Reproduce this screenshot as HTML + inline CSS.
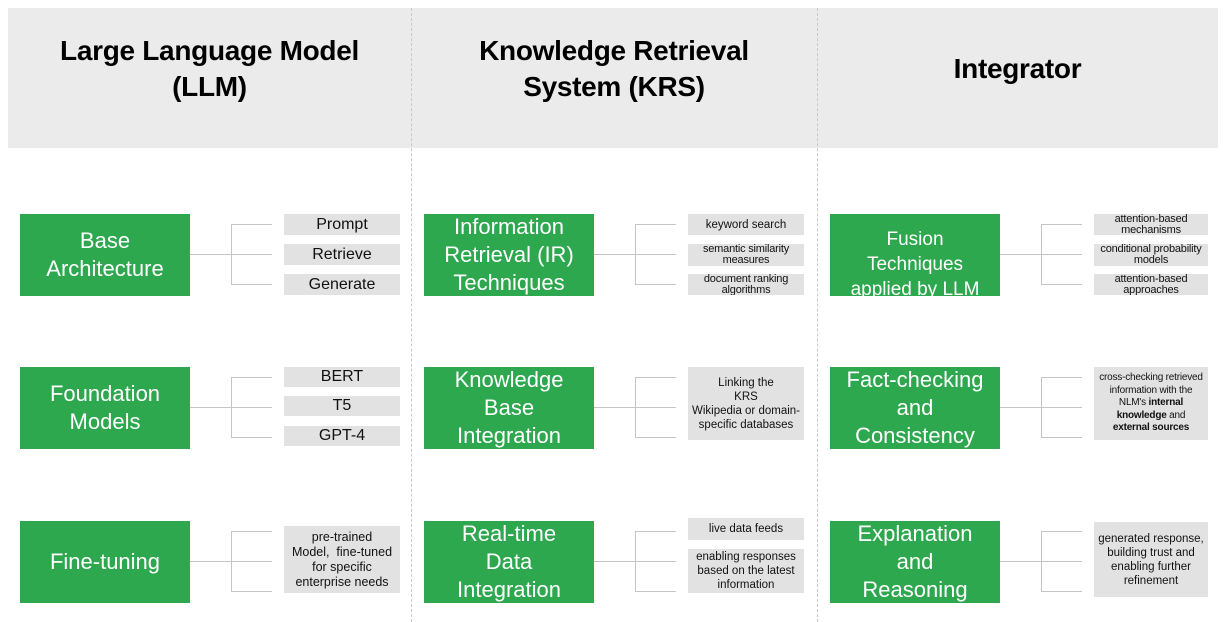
<!DOCTYPE html>
<html><head><meta charset="utf-8"><style>
body{margin:0;width:1223px;height:622px;background:#fff;position:relative;overflow:hidden;font-family:"Liberation Sans",Arial,sans-serif}
.hdr{position:absolute;left:8px;top:8px;width:1210px;height:140px;background:#ebebeb}
.ht{position:absolute;top:33px;text-align:center;font-weight:bold;font-size:28px;line-height:36px;color:#000;letter-spacing:-0.3px}
.dv{position:absolute;top:8px;height:614px;border-left:1px dashed #c8c8c8}
.g{position:absolute;width:170px;height:82px;background:#2ea84f;color:#fff;display:flex;align-items:center;justify-content:center;text-align:center;font-size:22px;line-height:28px;overflow:hidden}
.b{position:absolute;background:#e2e2e2;display:flex;align-items:center;justify-content:center;text-align:center;color:#111;overflow:hidden}
.t2{font-size:11px;line-height:11px;letter-spacing:-0.2px}
.l{position:absolute;background:#c4c4c4}
</style></head><body>
<div class="hdr"></div>
<div class="dv" style="left:411px"></div>
<div class="dv" style="left:817px"></div>
<div class="ht" style="left:8px;width:403px">Large Language Model<br>(LLM)</div>
<div class="ht" style="left:411px;width:406px">Knowledge Retrieval<br>System (KRS)</div>
<div class="ht" style="left:817px;width:401px;top:51px">Integrator</div>

<div id="c"></div>
<script>
var xs=[[190,231,272],[594,635,676],[1000,1041,1082]],rs=[214,367,521],h='';
xs.forEach(function(x){rs.forEach(function(r){
h+='<div class="l" style="left:'+x[0]+'px;top:'+(r+40)+'px;width:'+(x[2]-x[0])+'px;height:1px"></div>';
h+='<div class="l" style="left:'+x[1]+'px;top:'+(r+10)+'px;width:1px;height:60px"></div>';
h+='<div class="l" style="left:'+x[1]+'px;top:'+(r+10)+'px;width:'+(x[2]-x[1])+'px;height:1px"></div>';
h+='<div class="l" style="left:'+x[1]+'px;top:'+(r+70)+'px;width:'+(x[2]-x[1])+'px;height:1px"></div>';
});});
document.getElementById('c').innerHTML=h;
</script>

<div class="g" style="left:20px;top:214px"><div>Base<br>Architecture</div></div>
<div class="g" style="left:20px;top:367px"><div>Foundation<br>Models</div></div>
<div class="g" style="left:20px;top:521px"><div>Fine-tuning</div></div>
<div class="g" style="left:424px;top:214px"><div>Information<br>Retrieval (IR)<br>Techniques</div></div>
<div class="g" style="left:424px;top:367px"><div>Knowledge<br>Base<br>Integration</div></div>
<div class="g" style="left:424px;top:521px"><div>Real-time<br>Data<br>Integration</div></div>
<div class="g" style="left:830px;top:214px;font-size:19px;line-height:25px;align-items:flex-start"><div style="margin-top:13px">Fusion<br>Techniques<br>applied by LLM</div></div>
<div class="g" style="left:830px;top:367px"><div>Fact-checking<br>and<br>Consistency</div></div>
<div class="g" style="left:830px;top:521px"><div>Explanation<br>and<br>Reasoning</div></div>

<div class="b" style="left:284px;top:214px;width:116px;height:21px;font-size:16px"><div>Prompt</div></div>
<div class="b" style="left:284px;top:244px;width:116px;height:21px;font-size:16px"><div>Retrieve</div></div>
<div class="b" style="left:284px;top:274px;width:116px;height:21px;font-size:16px"><div>Generate</div></div>
<div class="b" style="left:284px;top:367px;width:116px;height:20px;font-size:16px"><div>BERT</div></div>
<div class="b" style="left:284px;top:396px;width:116px;height:20px;font-size:16px"><div>T5</div></div>
<div class="b" style="left:284px;top:426px;width:116px;height:20px;font-size:16px"><div>GPT-4</div></div>
<div class="b" style="left:284px;top:526px;width:116px;height:67px;font-size:12.5px;line-height:15px"><div>pre-trained<br>Model,&nbsp; fine-tuned<br>for specific<br>enterprise needs</div></div>

<div class="b" style="left:688px;top:214px;width:116px;height:21px;font-size:11.5px"><div>keyword search</div></div>
<div class="b t2" style="left:688px;top:244px;width:116px;height:22px"><div>semantic similarity<br>measures</div></div>
<div class="b t2" style="left:688px;top:274px;width:116px;height:21px"><div>document ranking<br>algorithms</div></div>
<div class="b" style="left:688px;top:367px;width:116px;height:73px;font-size:11.5px;line-height:14px"><div>Linking the<br>KRS<br>Wikipedia or domain-<br>specific databases</div></div>
<div class="b" style="left:688px;top:518px;width:116px;height:22px;font-size:11.5px"><div>live data feeds</div></div>
<div class="b" style="left:688px;top:549px;width:116px;height:44px;font-size:11.5px;line-height:14px"><div>enabling responses<br>based on the latest<br>information</div></div>

<div class="b t2" style="left:1094px;top:214px;width:114px;height:21px"><div>attention-based<br>mechanisms</div></div>
<div class="b t2" style="left:1094px;top:244px;width:114px;height:22px"><div>conditional probability<br>models</div></div>
<div class="b t2" style="left:1094px;top:274px;width:114px;height:21px"><div>attention-based<br>approaches</div></div>
<div class="b" style="left:1094px;top:367px;width:114px;height:73px;font-size:10px;line-height:12.5px;letter-spacing:-0.2px"><div>cross-checking retrieved<br>information with the<br>NLM's <b>internal</b><br><b>knowledge</b> and<br><b>external sources</b></div></div>
<div class="b" style="left:1094px;top:522px;width:114px;height:75px;font-size:11.5px;line-height:14px"><div>generated response,<br>building trust and<br>enabling further<br>refinement</div></div>
</body></html>
